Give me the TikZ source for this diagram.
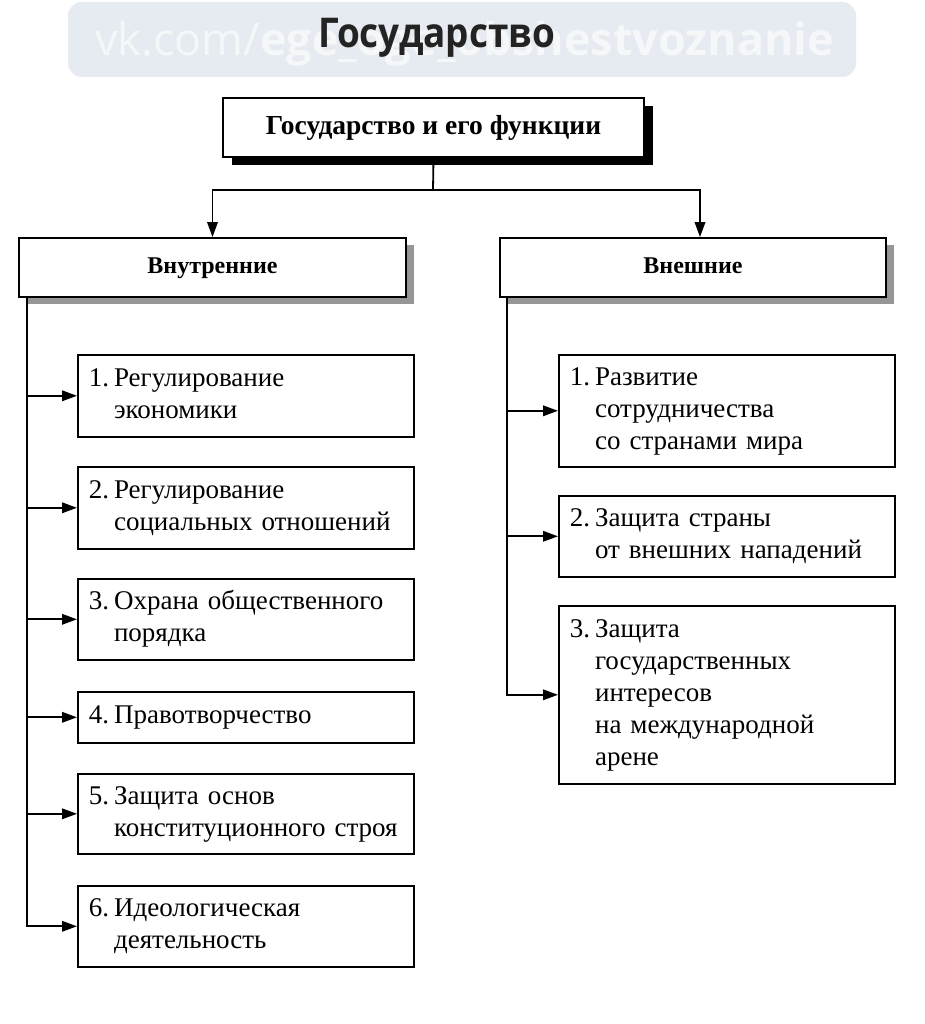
\documentclass[tikz,border=0pt]{standalone}
\usepackage{fontspec}
\setmainfont{Liberation Serif}
\newfontfamily\titlefont[FakeStretch=0.9]{Open Sans}
\newfontfamily\wmfont{Open Sans}
\usetikzlibrary{arrows.meta,shadows}
\definecolor{band}{RGB}{229,235,240}
\definecolor{shadowgray}{RGB}{150,150,150}
\definecolor{titlegray}{RGB}{35,35,35}
\newcommand{\itm}[2]{\begin{tabular}{@{}l@{\hspace{5pt}}l@{}}#1 & #2\end{tabular}}
\begin{document}
\begin{tikzpicture}[x=1pt,y=-1pt,
  conn/.style={line width=1.8pt},
  arr/.style={conn,-{Triangle[length=15pt,width=10.5pt]}},
  topbox/.style={draw,line width=2pt,fill=white,minimum width=421pt,minimum height=59pt,inner sep=0pt,
    text height=19pt,text depth=5pt,
    font=\fontsize{27.5}{30}\selectfont\bfseries,
    drop shadow={shadow xshift=9pt,shadow yshift=-8pt,fill=black,opacity=1}},
  catbox/.style={draw,line width=1.8pt,fill=white,minimum height=59pt,inner sep=0pt,
    text height=17pt,text depth=5pt,
    font=\fontsize{24}{26}\selectfont\bfseries,
    drop shadow={shadow xshift=8pt,shadow yshift=-7pt,fill=shadowgray,opacity=1}},
  itembox/.style={draw,line width=1.6pt,fill=white,anchor=north west,minimum width=336pt,
    text width=314pt,inner xsep=11pt,inner ysep=0pt,align=left,
    font=\fontsize{27}{32}\selectfont},
]
\fill[white] (0,0) rectangle (924,1024);
\useasboundingbox (0,0) rectangle (924,1024);
\fill[band,rounded corners=14pt] (68,2) rectangle (856,77);
\node[anchor=base west,text=white!60!band,inner sep=0pt] (wm) at (95,56)
  {\fontsize{45}{45}\wmfont vk.com/\bfseries ege\_oge\_obshestvoznanie};
\node[anchor=base,text=titlegray,inner sep=0pt] (title) at (437,48)
  {\fontsize{41}{41}\titlefont\bfseries Государство};

\node[topbox] (top) at (433.5,127.5) {Государство и его функции};
\node[catbox,minimum width=387pt] (cat1) at (212.5,267.5) {Внутренние};
\node[catbox,minimum width=386pt] (cat2) at (693,267.5) {Внешние};

\coordinate (j) at (433,190);
\draw[conn] (top.south) -- (j);
\draw[arr] (j) -| (cat1.north);
\draw[arr] (j) -| ([xshift=7pt]cat2.north);

\node[itembox,minimum height=82pt] (L1) at (77,354) {\itm{1.}{Регулирование\\&экономики}};
\node[itembox,minimum height=82pt] (L2) at (77,466) {\itm{2.}{Регулирование\\&социальных отношений}};
\node[itembox,minimum height=81pt] (L3) at (77,578) {\itm{3.}{Охрана общественного\\&порядка}};
\node[itembox,minimum height=51pt] (L4) at (77,691) {\itm{4.}{Правотворчество}};
\node[itembox,minimum height=80pt] (L5) at (77,773) {\itm{5.}{Защита основ\\&конституционного строя}};
\node[itembox,minimum height=81pt] (L6) at (77,885) {\itm{6.}{Идеологическая\\&деятельность}};

\node[itembox,minimum height=112pt,inner xsep=10pt] (R1) at (558,354) {\itm{1.}{Развитие\\&сотрудничества\\&со странами мира}};
\node[itembox,minimum height=81pt,inner xsep=10pt] (R2) at (558,495) {\itm{2.}{Защита страны\\&от внешних нападений}};
\node[itembox,minimum height=178pt,inner xsep=10pt] (R3) at (558,605) {\itm{3.}{Защита\\&государственных\\&интересов\\&на международной\\&арене}};

\coordinate (l0) at ([xshift=9pt]cat1.south west);
\foreach \i in {1,...,6} {\draw[arr] (l0) |- (L\i.west);}
\coordinate (r0) at ([xshift=8pt]cat2.south west);
\foreach \i in {1,2,3} {\draw[arr] (r0) |- (R\i.west);}
\end{tikzpicture}
\end{document}
